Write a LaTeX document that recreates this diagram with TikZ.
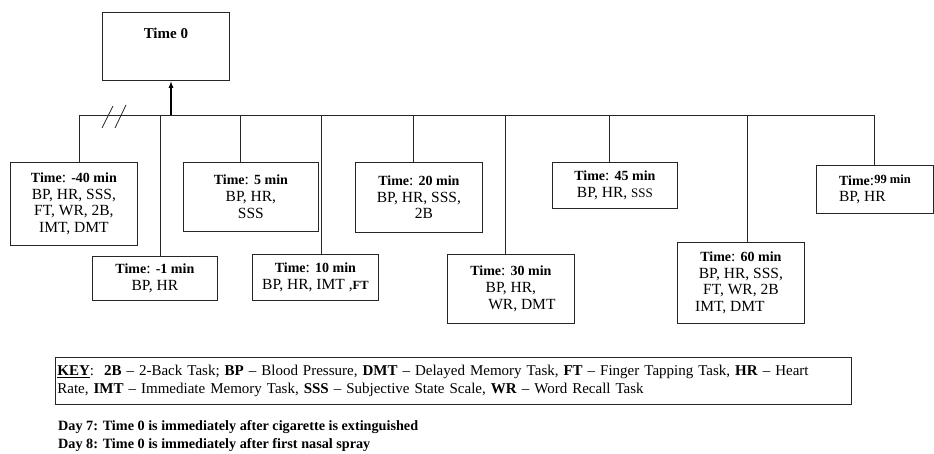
\documentclass[tikz,border=0pt]{standalone}
\usepackage{fontspec}
\setmainfont{Liberation Serif}
\usetikzlibrary{arrows.meta}
\newcommand{\tb}[1]{{\fontsize{14}{16.7}\selectfont\bfseries #1}}
\begin{document}
\begin{tikzpicture}[x=1pt,y=-1pt,
  box/.style={draw=black!85,line width=0.8pt,rectangle,inner sep=0pt,align=center,
    font=\fontsize{15.5}{16.7}\selectfont,anchor=north west},
  wire/.style={draw=black!85,line width=0.8pt},
  keybox/.style={draw=black!85,line width=0.8pt,rectangle,inner xsep=2pt,inner ysep=0pt,align=left,
    font=\fontsize{15}{18}\selectfont,anchor=north west},
  note/.style={inner sep=0pt,align=left,font=\fontsize{14.2}{18}\selectfont\bfseries,anchor=north west}]
\useasboundingbox (0,0) rectangle (934,454);
% top box
\node[box,minimum width=127pt,minimum height=68pt,
  label={[anchor=north,yshift=-13pt,font=\fontsize{15}{16.7}\selectfont]north:\textbf{Time 0}}] (t0) at (102,12) {};
% boxes
\node[box,minimum width=127pt,minimum height=83pt] (m40) at (10,162)
  {\tb{Time}: \tb{-40 min}\\BP, HR, SSS,\\FT, WR, 2B,\\IMT, DMT};
\node[box,minimum width=125pt,minimum height=44pt] (m1) at (92,256)
  {\tb{Time}: \tb{-1 min}\\BP, HR};
\node[box,minimum width=135pt,minimum height=69pt] (p5) at (183,162)
  {\tb{Time}: \tb{5 min}\\BP, HR,\\SSS};
\node[box,minimum width=126pt,minimum height=46pt] (p10) at (252,254)
  {\tb{Time}: \tb{10 min}\\BP, HR, IMT ,{\fontsize{12.5}{14}\selectfont\bfseries FT}};
\node[box,minimum width=127pt,minimum height=70pt] (p20) at (355,162)
  {\tb{Time}: \tb{20 min}\\BP, HR, SSS,\\\hspace*{10pt}2B};
\node[box,minimum width=127pt,minimum height=69pt] (p30) at (447,254)
  {\tb{Time}: \tb{30 min}\\BP, HR,\\\hspace*{22pt}WR, DMT};
\node[box,minimum width=125pt,minimum height=46pt] (p45) at (552,162)
  {\tb{Time}: \tb{45 min}\\BP, HR, {\fontsize{13}{14}\selectfont SSS}};
\node[box,minimum width=127pt,minimum height=81pt] (p60) at (677,242)
  {\tb{Time}: \tb{60 min}\\BP, HR, SSS,\\FT, WR, 2B\\IMT, DMT\hspace*{22pt}};
\node[box,minimum width=117pt,minimum height=48pt,align=left] (p99) at (816,165)
  {\tb{Time}:\raisebox{2pt}{\fontsize{12.5}{14}\selectfont\bfseries 99 min}\\BP, HR};
% bus
\coordinate (bl) at (79,115);
\coordinate (br) at (874,115);
\coordinate (arr) at (171,115);
\draw[wire] (bl) -- (br);
\draw[line width=1.8pt,-{Latex[length=7pt,width=5pt]}] (arr) -- (arr |- t0.south);
% drops
\coordinate (d1) at (79,115);
\coordinate (d2) at (160,115);
\coordinate (d3) at (240,115);
\coordinate (d4) at (321.7,115);
\coordinate (d5) at (413,115);
\coordinate (d6) at (505.7,115);
\coordinate (d7) at (609,115);
\coordinate (d8) at (747,115);
\coordinate (d9) at (874,115);
\draw[wire] (d1) -- (d1 |- m40.north);
\draw[wire] (d2) -- (d2 |- m1.north);
\draw[wire] (d3) -- (d3 |- p5.north);
\draw[wire] (d4) -- (d4 |- p10.north);
\draw[wire] (d5) -- (d5 |- p20.north);
\draw[wire] (d6) -- (d6 |- p30.north);
\draw[wire] (d7) -- (d7 |- p45.north);
\draw[wire] (d8) -- (d8 |- p60.north);
\draw[wire] (d9) -- (d9 |- p99.north);
% break marks
\coordinate (s1a) at (102,128); \coordinate (s1b) at (113,106);
\coordinate (s2a) at (115,128); \coordinate (s2b) at (126,105);
\draw[wire] (s1a) -- (s1b);
\draw[wire] (s2a) -- (s2b);
% key
\node[keybox,minimum width=796pt,minimum height=47pt,text width=792pt] (key) at (55,357)
  {\underline{\textbf{KEY}}:\ \ \textbf{2B} – 2-Back Task; \textbf{BP} – Blood Pressure, \textbf{DMT} – Delayed Memory Task, \textbf{FT} – Finger Tapping Task, \textbf{HR} – Heart\\
   Rate, \textbf{IMT} – Immediate Memory Task, \textbf{SSS} – Subjective State Scale, \textbf{WR} – Word Recall Task};
\node[note] (days) at (58,420)
  {Day 7: Time 0 is immediately after cigarette is extinguished\\Day 8: Time 0 is immediately after first nasal spray};
\end{tikzpicture}
\end{document}
